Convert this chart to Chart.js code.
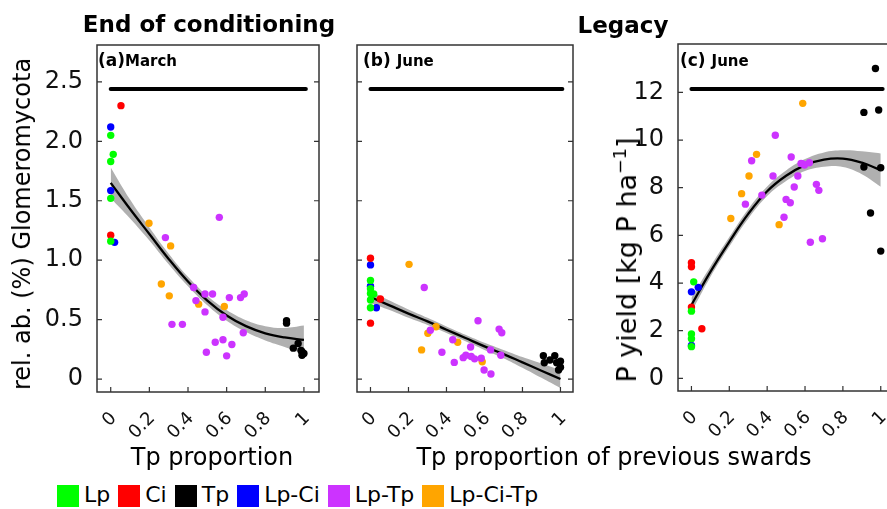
<!DOCTYPE html>
<html>
<head>
<meta charset="utf-8">
<script src="https://cdn.jsdelivr.net/npm/chart.js@4.4.1/dist/chart.umd.min.js"></script>
<style>
  body { margin: 0; background: #fff; overflow: hidden; font-family: "DejaVu Sans", sans-serif; color: #000; }
  #fig { position: relative; width: 887px; height: 509px; overflow: hidden; }
  canvas { position: absolute; top: 0; }
  .t { position: absolute; white-space: nowrap; line-height: 1; }
  .main { font-weight: bold; font-size: 23px; transform: translateX(-50%); }
  .xt { font-size: 24px; transform: translateX(-50%); }
  .yt { transform: translate(-50%, -50%) rotate(-90deg); }
  .pl { font-weight: bold; font-size: 17px; }
  .pl span { font-size: 15px; }
  #legend { position: absolute; left: 57px; top: 485px; height: 22px; display: flex; align-items: center; font-size: 22px; }
  #legend .box { width: 22px; height: 22px; margin-right: 5px; }
  #legend .lab { margin-right: 8px; line-height: 1; position: relative; top: -1px; }
</style>
</head>
<body>
<div id="fig">
  <canvas id="chartA" width="330" height="470" style="left:0px"></canvas>
  <canvas id="chartB" width="237" height="470" style="left:340px"></canvas>
  <canvas id="chartC" width="298" height="470" style="left:600px"></canvas>

  <div class="t main" style="left:209px; top:13px">End of conditioning</div>
  <div class="t main" style="left:623px; top:14px">Legacy</div>

  <div class="t pl" style="left:98px; top:52px">(a)<span>March</span></div>
  <div class="t pl" style="left:363px; top:52px">(b) <span>June</span></div>
  <div class="t pl" style="left:680px; top:52px">(c) <span>June</span></div>

  <div class="t yt" style="left:22px; top:224px; font-size:24px">rel. ab. (%) Glomeromycota</div>
  <div class="t yt" style="left:626px; top:260px; font-size:27px">P yield [kg P ha<sup style="font-size:0.65em">−1</sup>]</div>

  <div class="t xt" style="left:212px; top:445px">Tp proportion</div>
  <div class="t xt" style="left:614px; top:445px">Tp proportion of previous swards</div>

  <div id="legend"></div>
</div>
<script>
const categories = ['Lp', 'Ci', 'Tp', 'Lp-Ci', 'Lp-Tp', 'Lp-Ci-Tp'];
const catColors = ['#00FF00', '#FF0000', '#000000', '#0000FF', '#CC33FF', '#FFA500'];

const xTicks = [0, 0.2, 0.4, 0.6, 0.8, 1];
const xTickLabels = ['0', '0.2', '0.4', '0.6', '0.8', '1'];
const yTicksAB = [0, 0.5, 1, 1.5, 2, 2.5];
const yTickLabelsAB = ['0', '0.5', '1.0', '1.5', '2.0', '2.5'];
const yTicksC = [0, 2, 4, 6, 8, 10, 12];
const yTickLabelsC = ['0', '2', '4', '6', '8', '10', '12'];

// (a) March - end of conditioning
const aX = [0, 0.013, 0, 0, 0,
            0.053, 0,
            0, 0, 0.02,
            0.198, 0.31, 0.262, 0.303, 0.455, 0.588,
            0.283, 0.562, 0.429, 0.488, 0.527, 0.614, 0.672, 0.691, 0.441, 0.488,
            0.581, 0.317, 0.371, 0.686, 0.541, 0.581, 0.627, 0.495, 0.60,
            0.91, 0.91, 0.945, 0.97, 0.99, 1.0, 0.99, 0.985];
const aY = [2.05, 1.89, 1.83, 1.52, 1.16,
            2.30, 1.21,
            2.12, 1.585, 1.15,
            1.31, 1.12, 0.80, 0.70, 0.63, 0.61,
            1.19, 1.36, 0.77, 0.715, 0.715, 0.685, 0.685, 0.715, 0.66, 0.565,
            0.52, 0.46, 0.46, 0.39, 0.31, 0.33, 0.29, 0.225, 0.195,
            0.49, 0.47, 0.26, 0.30, 0.23, 0.215, 0.20, 0.24];
const aG = ['Lp', 'Lp', 'Lp', 'Lp', 'Lp',
            'Ci', 'Ci',
            'Lp-Ci', 'Lp-Ci', 'Lp-Ci',
            'Lp-Ci-Tp', 'Lp-Ci-Tp', 'Lp-Ci-Tp', 'Lp-Ci-Tp', 'Lp-Ci-Tp', 'Lp-Ci-Tp',
            'Lp-Tp', 'Lp-Tp', 'Lp-Tp', 'Lp-Tp', 'Lp-Tp', 'Lp-Tp', 'Lp-Tp', 'Lp-Tp', 'Lp-Tp', 'Lp-Tp',
            'Lp-Tp', 'Lp-Tp', 'Lp-Tp', 'Lp-Tp', 'Lp-Tp', 'Lp-Tp', 'Lp-Tp', 'Lp-Tp', 'Lp-Tp',
            'Tp', 'Tp', 'Tp', 'Tp', 'Tp', 'Tp', 'Tp', 'Tp'];

// (b) June - legacy
const bX = [0, 0.052, 0,
            0, 0, 0.031,
            0, 0, 0.017, 0, 0, 0,
            0.203, 0.345, 0.302, 0.269, 0.459, 0.588,
            0.283, 0.315, 0.376, 0.433, 0.441, 0.488, 0.502, 0.527, 0.53,
            0.548, 0.583, 0.566, 0.598, 0.634, 0.632, 0.677, 0.691, 0.686,
            0.91, 0.915, 0.945, 0.97, 0.98, 1.0, 0.99, 1.0];
const bY = [1.016, 0.673, 0.47,
            0.96, 0.78, 0.60,
            0.83, 0.76, 0.715, 0.665, 0.60, 0.72,
            0.965, 0.44, 0.385, 0.245, 0.31, 0.146,
            0.77, 0.41, 0.225, 0.33, 0.14, 0.18, 0.20, 0.27, 0.19,
            0.17, 0.175, 0.49, 0.076, 0.042, 0.245, 0.42, 0.39, 0.20,
            0.196, 0.137, 0.16, 0.196, 0.137, 0.15, 0.076, 0.10];
const bG = ['Ci', 'Ci', 'Ci',
            'Lp-Ci', 'Lp-Ci', 'Lp-Ci',
            'Lp', 'Lp', 'Lp', 'Lp', 'Lp', 'Lp',
            'Lp-Ci-Tp', 'Lp-Ci-Tp', 'Lp-Ci-Tp', 'Lp-Ci-Tp', 'Lp-Ci-Tp', 'Lp-Ci-Tp',
            'Lp-Tp', 'Lp-Tp', 'Lp-Tp', 'Lp-Tp', 'Lp-Tp', 'Lp-Tp', 'Lp-Tp', 'Lp-Tp', 'Lp-Tp',
            'Lp-Tp', 'Lp-Tp', 'Lp-Tp', 'Lp-Tp', 'Lp-Tp', 'Lp-Tp', 'Lp-Tp', 'Lp-Tp', 'Lp-Tp',
            'Tp', 'Tp', 'Tp', 'Tp', 'Tp', 'Tp', 'Tp', 'Tp'];

// (c) June - P yield
const cX = [0.972, 0.911, 0.989, 0.911, 1.0, 0.946, 1.0,
            0.588, 0.344, 0.304, 0.265, 0.208, 0.463,
            0.443, 0.318, 0.527, 0.579, 0.597, 0.623, 0.588, 0.431, 0.562, 0.543,
            0.66, 0.673, 0.372, 0.285, 0.50, 0.522, 0.489, 0.628, 0.692,
            0, 0, 0, 0.055,
            0.012, 0, 0, 0, 0,
            0, 0.036, 0];
const cY = [13.0, 11.16, 11.26, 8.87, 8.84, 6.94, 5.34,
            11.54, 9.40, 8.49, 7.75, 6.71, 6.45,
            10.2, 9.13, 9.29, 9.02, 8.95, 9.05, 9.0, 8.49, 8.49, 8.03,
            8.14, 7.89, 7.69, 7.31, 7.51, 7.37, 6.76, 5.71, 5.86,
            4.85, 4.68, 2.99, 2.08,
            4.05, 2.82, 1.86, 1.66, 1.33,
            3.63, 3.82, 1.38];
const cG = ['Tp', 'Tp', 'Tp', 'Tp', 'Tp', 'Tp', 'Tp',
            'Lp-Ci-Tp', 'Lp-Ci-Tp', 'Lp-Ci-Tp', 'Lp-Ci-Tp', 'Lp-Ci-Tp', 'Lp-Ci-Tp',
            'Lp-Tp', 'Lp-Tp', 'Lp-Tp', 'Lp-Tp', 'Lp-Tp', 'Lp-Tp', 'Lp-Tp', 'Lp-Tp', 'Lp-Tp', 'Lp-Tp',
            'Lp-Tp', 'Lp-Tp', 'Lp-Tp', 'Lp-Tp', 'Lp-Tp', 'Lp-Tp', 'Lp-Tp', 'Lp-Tp', 'Lp-Tp',
            'Ci', 'Ci', 'Ci', 'Ci',
            'Lp', 'Lp', 'Lp', 'Lp', 'Lp',
            'Lp-Ci', 'Lp-Ci', 'Lp-Ci'];

// fitted curves with confidence band
const fitX = [0, 0.1, 0.2, 0.3, 0.4, 0.5, 0.6, 0.7, 0.8, 0.9, 1];
const fitA = [1.65, 1.43, 1.22, 1.01, 0.82, 0.66, 0.535, 0.445, 0.385, 0.35, 0.33];
const upA  = [1.78, 1.51, 1.275, 1.055, 0.86, 0.70, 0.58, 0.495, 0.445, 0.43, 0.45];
const loA  = [1.52, 1.35, 1.165, 0.965, 0.78, 0.62, 0.49, 0.395, 0.325, 0.27, 0.21];
const fitB = [0.69, 0.62, 0.55, 0.485, 0.415, 0.345, 0.275, 0.21, 0.14, 0.07, 0.0];
const upB  = [0.74, 0.66, 0.585, 0.515, 0.442, 0.372, 0.305, 0.245, 0.185, 0.13, 0.075];
const loB  = [0.64, 0.58, 0.515, 0.455, 0.388, 0.318, 0.245, 0.175, 0.095, 0.01, -0.075];
const fitC = [3.08, 4.47, 5.73, 6.9, 7.85, 8.5, 8.95, 9.18, 9.22, 9.05, 8.74];
const upC  = [3.38, 4.69, 5.93, 7.1, 8.05, 8.72, 9.2, 9.48, 9.57, 9.53, 9.44];
const loC  = [2.78, 4.25, 5.53, 6.7, 7.65, 8.28, 8.7, 8.88, 8.87, 8.57, 8.04];

// thick black bar at the top of each panel
const barX = [0, 1.01];
const barA = [2.44, 2.44];
const barB = [2.44, 2.44];
const barC = [12.14, 12.14];

const FONT = 'DejaVu Sans';

const boxTicks = {
    id: 'boxTicks',
    afterDraw(chart) {
        const { ctx, chartArea: a, scales } = chart;
        ctx.save();
        ctx.strokeStyle = '#333';
        ctx.lineWidth = 1.5;
        ctx.strokeRect(a.left, a.top, a.right - a.left, a.bottom - a.top);
        ctx.lineWidth = 1.2;
        ctx.beginPath();
        scales.x.ticks.forEach(t => {
            const px = scales.x.getPixelForValue(t.value);
            ctx.moveTo(px, a.bottom);
            ctx.lineTo(px, a.bottom - 5);
        });
        scales.y.ticks.forEach(t => {
            const py = scales.y.getPixelForValue(t.value);
            ctx.moveTo(a.left, py);
            ctx.lineTo(a.left + 5, py);
            ctx.moveTo(a.right, py);
            ctx.lineTo(a.right - 5, py);
        });
        ctx.stroke();
        ctx.restore();
    }
};

function pointSets(xs, ys, gs) {
    return categories.map((c, i) => ({
        label: c,
        data: xs.map((x, k) => ({ x: x, y: ys[k], g: gs[k] })).filter(p => p.g === c),
        backgroundColor: catColors[i],
        borderWidth: 0,
        pointRadius: 3.7,
        order: 0
    }));
}

function curveSets(fit, up, lo, bar) {
    const line = { showLine: true, pointRadius: 0, tension: 0.4 };
    return [
        Object.assign({}, line, {
            data: fitX.map((x, i) => ({ x: x, y: up[i] })),
            fill: '+1', backgroundColor: '#B0B0B0',
            borderColor: 'rgba(0,0,0,0)', borderWidth: 0, order: 3
        }),
        Object.assign({}, line, {
            data: fitX.map((x, i) => ({ x: x, y: lo[i] })),
            fill: false, borderColor: 'rgba(0,0,0,0)', borderWidth: 0, order: 3
        }),
        Object.assign({}, line, {
            data: fitX.map((x, i) => ({ x: x, y: fit[i] })),
            fill: false, borderColor: '#000', borderWidth: 2.3, order: 2
        }),
        {
            data: barX.map((x, i) => ({ x: x, y: bar[i] })),
            showLine: true, pointRadius: 0, fill: false,
            borderColor: '#000', borderWidth: 4, borderCapStyle: 'round', order: 2
        }
    ];
}

function makePanel(id, p) {
    const pts = pointSets(p.xs, p.ys, p.gs);
    const curves = curveSets(p.fit, p.up, p.lo, p.bar);
    return new Chart(document.getElementById(id), {
        type: 'scatter',
        data: { datasets: curves.concat(pts) },
        options: {
            responsive: false,
            animation: false,
            events: [],
            layout: { padding: { top: p.top, right: p.right, left: 0, bottom: 0 } },
            plugins: { legend: { display: false }, tooltip: { enabled: false } },
            scales: {
                x: {
                    type: 'linear', min: p.xmin, max: p.xmax,
                    afterBuildTicks: s => { s.ticks = xTicks.map(v => ({ value: v })); },
                    afterFit: s => { s.height = p.xh; s.paddingLeft = 0; s.paddingRight = 0; },
                    grid: { display: false }, border: { display: false },
                    ticks: {
                        font: { family: FONT, size: 18 }, color: '#111',
                        minRotation: 45, maxRotation: 45, padding: 8, labelOffset: 3,
                        autoSkip: false,
                        callback: (v, i) => xTickLabels[i]
                    }
                },
                y: {
                    type: 'linear', min: p.ymin, max: p.ymax,
                    afterBuildTicks: s => { s.ticks = p.yTicks.map(v => ({ value: v })); },
                    afterFit: s => { s.width = p.yw; s.paddingTop = 0; s.paddingBottom = 0; },
                    grid: { display: false }, border: { display: false },
                    ticks: {
                        display: p.showY,
                        font: { family: FONT, size: 24 }, color: '#111', padding: 6,
                        callback: (v, i) => p.yLabels[i]
                    }
                }
            }
        },
        plugins: [boxTicks]
    });
}

makePanel('chartA', {
    xs: aX, ys: aY, gs: aG, fit: fitA, up: upA, lo: loA, bar: barA,
    xmin: -0.071, xmax: 1.078, ymin: -0.109, ymax: 2.81,
    yTicks: yTicksAB, yLabels: yTickLabelsAB, showY: true,
    top: 45, right: 11, xh: 78, yw: 97
});
makePanel('chartB', {
    xs: bX, ys: bY, gs: bG, fit: fitB, up: upB, lo: loB, bar: barB,
    xmin: -0.071, xmax: 1.066, ymin: -0.109, ymax: 2.81,
    yTicks: yTicksAB, yLabels: yTickLabelsAB, showY: false,
    top: 45, right: 0, xh: 78, yw: 17
});
makePanel('chartC', {
    xs: cX, ys: cY, gs: cG, fit: fitC, up: upC, lo: loC, bar: barC,
    xmin: -0.071, xmax: 1.07, ymin: -0.53, ymax: 14.03,
    yTicks: yTicksC, yLabels: yTickLabelsC, showY: true,
    top: 44, right: 0, xh: 79, yw: 78
});

const legend = document.getElementById('legend');
categories.forEach((c, i) => {
    const box = document.createElement('div');
    box.className = 'box';
    box.style.background = catColors[i];
    const lab = document.createElement('div');
    lab.className = 'lab';
    lab.textContent = c;
    legend.appendChild(box);
    legend.appendChild(lab);
});
</script>
</body>
</html>
